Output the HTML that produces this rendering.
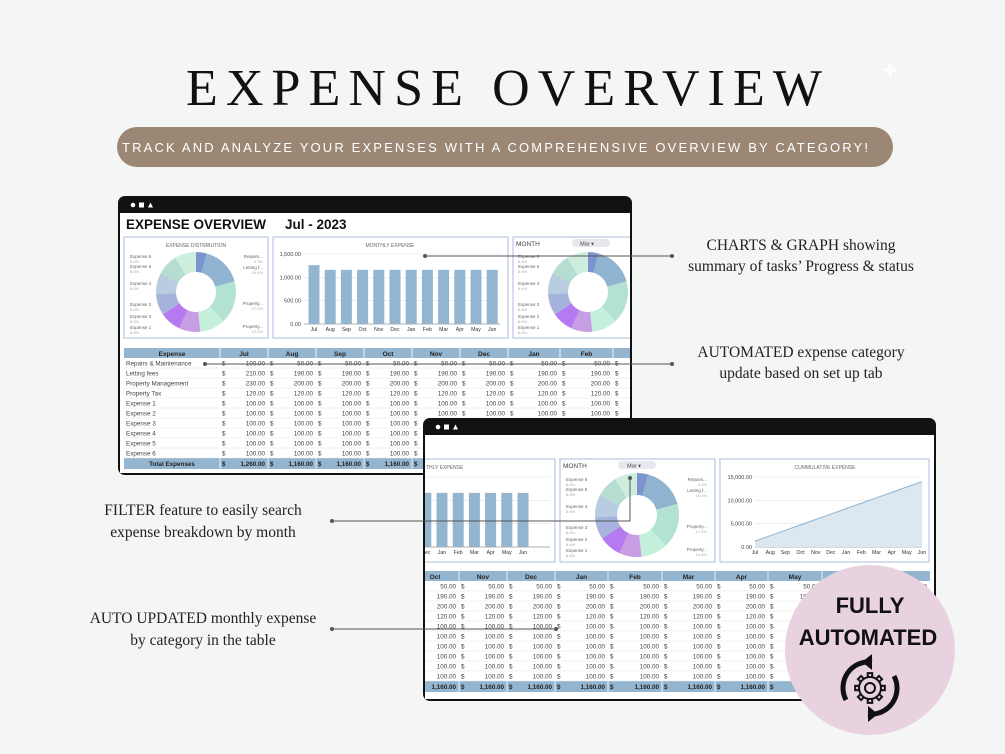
<!DOCTYPE html>
<html><head><meta charset="utf-8"><style>
html,body{margin:0;padding:0;background:#f4f6f5;}
svg{display:block;}
text{font-family:"Liberation Sans",sans-serif;}
.serif{font-family:"Liberation Serif",serif;}
</style></head><body>
<svg id="s" width="1005" height="754" viewBox="0 0 1005 754" xmlns="http://www.w3.org/2000/svg">
<rect width="1005" height="754" fill="#f4f6f5"/>
<text class="serif" x="186" y="105" font-size="52" textLength="636" lengthAdjust="spacing" fill="#111">EXPENSE OVERVIEW</text>
<g fill="#fff" opacity="0.9"><path d="M890 60 L892 68 L900 70 L892 72 L890 80 L888 72 L880 70 L888 68Z"/></g>
<rect x="117" y="127" width="776" height="40" rx="20" fill="#9c8774"/>
<text x="122" y="152" font-size="13" textLength="746" lengthAdjust="spacing" fill="#fff">TRACK AND ANALYZE YOUR EXPENSES WITH A COMPREHENSIVE OVERVIEW BY CATEGORY!</text>
<g id="w1"></g>
<g id="w2"></g>
<g id="ann"></g>
<g id="badge"></g>
</svg>
<script>
const NS="http://www.w3.org/2000/svg";
function el(p,tag,a,txt){const e=document.createElementNS(NS,tag);for(const k in a)e.setAttribute(k,a[k]);if(txt!=null)e.textContent=txt;p.appendChild(e);return e;}
const colors=["#7b93cf","#8fb3d0","#b2e2d2","#c3efdb","#c79ee3","#b57af0","#a5b3dd","#b8cce2","#b6ddd1","#cdeedd"];
const pcts=[4.3,16.4,17.2,10.3,8.6,8.6,8.6,8.6,8.6,8.6];
function donut(g,cx,cy,R,r){let a=-Math.PI/2;const tot=pcts.reduce((x,y)=>x+y);
 pcts.forEach((p,i)=>{const b=a+p/tot*2*Math.PI;const l=(b-a)>Math.PI?1:0;
 const d=`M${cx+R*Math.cos(a)} ${cy+R*Math.sin(a)} A${R} ${R} 0 ${l} 1 ${cx+R*Math.cos(b)} ${cy+R*Math.sin(b)} L${cx+r*Math.cos(b)} ${cy+r*Math.sin(b)} A${r} ${r} 0 ${l} 0 ${cx+r*Math.cos(a)} ${cy+r*Math.sin(a)}Z`;
 el(g,"path",{d,fill:colors[i]});a=b;});}
function donutLabels(g,x0,cy,right){const L=[["Expense 6",-34],["Expense 5",-24],["Expense 4",-7],["Expense 3",14],["Expense 2",26],["Expense 1",37]];
 L.forEach(([t,dy])=>{el(g,"text",{x:x0,y:cy+dy,"font-size":4.5,fill:"#666"},t);el(g,"text",{x:x0,y:cy+dy+5,"font-size":4,fill:"#aaa"},"8.6%");});
 if(right!=null){[["Repairs...",-34,"4.3%"],["Letting f...",-23,"16.4%"],["Property...",13,"17.2%"],["Property...",36,"10.3%"]].forEach(([t,dy,p])=>{
 el(g,"text",{x:right,y:cy+dy,"font-size":4.5,fill:"#666","text-anchor":"end"},t);el(g,"text",{x:right,y:cy+dy+5,"font-size":4,fill:"#aaa","text-anchor":"end"},p);});}}
const months=["Jul","Aug","Sep","Oct","Nov","Dec","Jan","Feb","Mar","Apr","May","Jun"];
function bars(g,x0,step,zero,top,axisX,axisW,lbl){
 [0,500,1000,1500].forEach(v=>{const y=zero-(v/1500)*(zero-top);el(g,"line",{x1:axisX,x2:axisX+axisW,y1:y,y2:y,stroke:v?"#e4e4e4":"#999","stroke-width":v?0.6:0.8});
 if(lbl)el(g,"text",{x:axisX-3,y:y+2,"font-size":5.5,fill:"#444","text-anchor":"end"},v.toLocaleString("en-US",{minimumFractionDigits:2}));});
 months.forEach((m,i)=>{const v=i?1160:1260;const h=v/1500*(zero-top);const cx=x0+i*step;
 el(g,"rect",{x:cx-5.5,y:zero-h,width:11,height:h,fill:"#94b5d0"});
 el(g,"text",{x:cx,y:zero+7,"font-size":5.2,fill:"#333","text-anchor":"middle"},m);});}
const rows=["Repairs & Maintenance","Letting fees","Property Management","Property Tax","Expense 1","Expense 2","Expense 3","Expense 4","Expense 5","Expense 6"];
const vals=[[100,50],[210,190],[230,200],[120,120],[100,100],[100,100],[100,100],[100,100],[100,100],[100,100]];
function fmt(v){return v.toLocaleString("en-US",{minimumFractionDigits:2});}
function table(g,y0,cols,nameCol,colMonths,firstIsJul,xmax){
 const tx=cols[0][0]-(nameCol?nameCol[1]-nameCol[0]:0);
 el(g,"rect",{x:tx,y:y0,width:xmax-tx,height:10,fill:"#94b5d0"});
 el(g,"rect",{x:tx,y:y0+110,width:xmax-tx,height:11,fill:"#94b5d0"});
 for(let r=0;r<10;r++){el(g,"line",{x1:tx,x2:xmax,y1:y0+20+r*10,y2:y0+20+r*10,stroke:"#e6e6e6","stroke-width":0.6});}
 if(nameCol){el(g,"text",{x:(nameCol[0]+nameCol[1])/2,y:y0+8,"font-size":6.5,"font-weight":"bold","text-anchor":"middle",fill:"#222"},"Expense");
  rows.forEach((t,r)=>el(g,"text",{x:nameCol[0]+2,y:y0+17.5+r*10,"font-size":6.3,fill:"#444"},t));
  el(g,"text",{x:(nameCol[0]+nameCol[1])/2,y:y0+118,"font-size":6.3,"font-weight":"bold","text-anchor":"middle",fill:"#222"},"Total Expenses");}
 cols.forEach(([a,b],ci)=>{const m=colMonths[ci];const isJul=m==="Jul";
  el(g,"line",{x1:a,x2:a,y1:y0,y2:y0+121,stroke:"#fff","stroke-width":0.8});
  el(g,"text",{x:(a+b)/2,y:y0+8,"font-size":6.5,"font-weight":"bold","text-anchor":"middle",fill:"#222"},m);
  rows.forEach((t,r)=>{const v=isJul?vals[r][0]:vals[r][1];
   el(g,"text",{x:a+2,y:y0+17.5+r*10,"font-size":6.3,fill:"#444"},"$");
   el(g,"text",{x:b-3,y:y0+17.5+r*10,"font-size":6.3,fill:"#444","text-anchor":"end"},fmt(v));});
  el(g,"text",{x:a+2,y:y0+118,"font-size":6.3,"font-weight":"bold",fill:"#222"},"$");
  el(g,"text",{x:b-3,y:y0+118,"font-size":6.3,"font-weight":"bold",fill:"#222","text-anchor":"end"},isJul?"1,260.00":"1,160.00");});}
function windowFrame(g,x,y,w,h,id){
 el(g,"rect",{x:x,y:y,width:w,height:h,rx:7,fill:"#111"});
 el(g,"rect",{x:x+2,y:y+17,width:w-4,height:h-19,fill:"#fff"});
 el(g,"circle",{cx:x+15,cy:y+9,r:2.3,fill:"#fff"});
 el(g,"rect",{x:x+21,y:y+6.5,width:5,height:5,fill:"#fff"});
 el(g,"path",{d:`M${x+30} ${y+11.5} L${x+32.5} ${y+6.5} L${x+35} ${y+11.5}Z`,fill:"#fff"});
 const cp=el(document.getElementById("s"),"clipPath",{id:id});el(cp,"rect",{x:x+2,y:y+17,width:w-4,height:h-19});
 return el(g,"g",{"clip-path":`url(#${id})`});}
function panel(g,x,y,w,h){el(g,"rect",{x,y,width:w,height:h,fill:"#fff",stroke:"#b9c8e4","stroke-width":1.2});}

const w1=document.getElementById("w1");
const c1=windowFrame(w1,118,196,514,279,"cp1");
el(c1,"text",{x:126,y:229,"font-size":13.5,"font-weight":"bold",fill:"#111"},"EXPENSE OVERVIEW");
el(c1,"text",{x:285,y:229,"font-size":13.5,"font-weight":"bold",fill:"#111"},"Jul   -  2023");
panel(c1,124,237,144,101);panel(c1,273,237,235,101);panel(c1,513,237,125,101);
el(c1,"text",{x:196,y:247,"font-size":5,fill:"#666","text-anchor":"middle"},"EXPENSE DISTRIBUTION");
el(c1,"text",{x:390,y:247,"font-size":5,fill:"#666","text-anchor":"middle"},"MONTHLY EXPENSE");
donut(c1,196,292,40,20);donutLabels(c1,130,292,263);
bars(c1,314,16.2,324,254,304,196,true);
el(c1,"text",{x:516,y:246,"font-size":6.5,fill:"#444"},"MONTH");
el(c1,"rect",{x:572,y:239,width:38,height:8,rx:4,fill:"#e6e8ee"});
el(c1,"text",{x:587,y:245.5,"font-size":5.5,fill:"#444","text-anchor":"middle"},"Mar ▾");
donut(c1,588,292,40,20);donutLabels(c1,518,292,null);
table(c1,348,[[220,268],[268,316],[316,364],[364,412],[412,460],[460,508],[508,560],[560,613],[613,666]],[124,220],["Jul","Aug","Sep","Oct","Nov","Dec","Jan","Feb","Mar"],true,640);

const w2=document.getElementById("w2");
const c2=windowFrame(w2,423,418,513,283,"cp2");
panel(c2,380,459,175,103);panel(c2,560,459,155,103);panel(c2,720,459,209,103);
el(c2,"text",{x:426,y:469,"font-size":5,fill:"#666"},"THLY EXPENSE");
bars(c2,442-6*16.2,16.2,547,477,420,130,false);
el(c2,"text",{x:563,y:468,"font-size":6.5,fill:"#444"},"MONTH");
el(c2,"rect",{x:618,y:461,width:38,height:8,rx:4,fill:"#e6e8ee"});
el(c2,"text",{x:634,y:467.5,"font-size":5.5,fill:"#444","text-anchor":"middle"},"Mar ▾");
donut(c2,637,515,42,20);donutLabels(c2,566,515,707);
el(c2,"text",{x:825,y:469,"font-size":5,fill:"#666","text-anchor":"middle"},"CUMMULATIVE EXPENSE");
[0,5000,10000,15000].forEach(v=>{const y=547-v/15000*70;el(c2,"line",{x1:755,x2:922,y1:y,y2:y,stroke:v?"#e4e4e4":"#999","stroke-width":v?0.6:0.8});
 el(c2,"text",{x:752,y:y+2,"font-size":5.5,fill:"#444","text-anchor":"end"},fmt(v));});
let pts=[],cum=0;months.forEach((m,i)=>{cum+=i?1160:1260;const x=755+i*(167/11);pts.push([x,547-cum/15000*70]);
 el(c2,"text",{x:x,y:554,"font-size":5.2,fill:"#333","text-anchor":"middle"},m);});
el(c2,"path",{d:"M"+pts.map(p=>p.join(" ")).join(" L")+" L922 547 L755 547Z",fill:"#dde7f0"});
el(c2,"path",{d:"M"+pts.map(p=>p.join(" ")).join(" L"),fill:"none",stroke:"#8fb3d0","stroke-width":1});
table(c2,571,[[411,459],[459,507],[507,555],[555,608],[608,662],[662,715],[715,768],[768,822],[822,876],[876,930]],null,["Oct","Nov","Dec","Jan","Feb","Mar","Apr","May","Jun","Total"],false,930);

const an=document.getElementById("ann");
function line(pts,dots){el(an,"polyline",{points:pts.map(p=>p.join(",")).join(" "),fill:"none",stroke:"#555","stroke-width":1});dots.forEach(p=>el(an,"circle",{cx:p[0],cy:p[1],r:2,fill:"#555"}));}
line([[425,256],[672,256]],[[425,256],[672,256]]);
line([[205,364],[672,364]],[[205,364],[672,364]]);
line([[332,521],[630,521],[630,478]],[[332,521],[630,478]]);
line([[332,629],[556,629]],[[332,629],[556,629]]);
function st(x,y,t,sz){el(an,"text",{x,y,"font-size":sz||15.5,"text-anchor":"middle",fill:"#222",style:"font-family:'Liberation Serif',serif"},t);}
st(801,250,"CHARTS &  GRAPH  showing");st(801,271,"summary of tasks’ Progress & status");
st(801,357,"AUTOMATED expense category");st(801,378,"update based on set up tab");
st(203,515,"FILTER  feature to easily search");st(203,537,"expense breakdown by month");
st(203,623,"AUTO UPDATED monthly expense");st(203,645,"by category in the table");

const b=document.getElementById("badge");
el(b,"circle",{cx:870,cy:650,r:85,fill:"#e8d2df"});
el(b,"text",{x:870,y:613,"font-size":22,"font-weight":"bold","text-anchor":"middle",fill:"#111"},"FULLY");
el(b,"text",{x:868,y:645,"font-size":22,"font-weight":"bold","text-anchor":"middle",fill:"#111"},"AUTOMATED");
el(b,"path",{d:"M846 700 A26 26 0 0 1 872 662",fill:"none",stroke:"#111","stroke-width":5});
el(b,"path",{d:"M894 676 A26 26 0 0 1 868 714",fill:"none",stroke:"#111","stroke-width":5});
el(b,"path",{d:"M872 654 L862 662 L872 670Z",fill:"#111"});
el(b,"path",{d:"M868 706 L878 714 L868 722Z",fill:"#111"});
let gd="";for(let i=0;i<8;i++){const a=i*Math.PI/4;gd+=`M${870+11*Math.cos(a-0.2)} ${688+11*Math.sin(a-0.2)} L${870+15*Math.cos(a-0.15)} ${688+15*Math.sin(a-0.15)} L${870+15*Math.cos(a+0.15)} ${688+15*Math.sin(a+0.15)} L${870+11*Math.cos(a+0.2)} ${688+11*Math.sin(a+0.2)} `;}
el(b,"path",{d:gd,fill:"none",stroke:"#111","stroke-width":2});
el(b,"circle",{cx:870,cy:688,r:11,fill:"none",stroke:"#111","stroke-width":2});
el(b,"circle",{cx:870,cy:688,r:5,fill:"none",stroke:"#111","stroke-width":2});
</script>
</body></html>
